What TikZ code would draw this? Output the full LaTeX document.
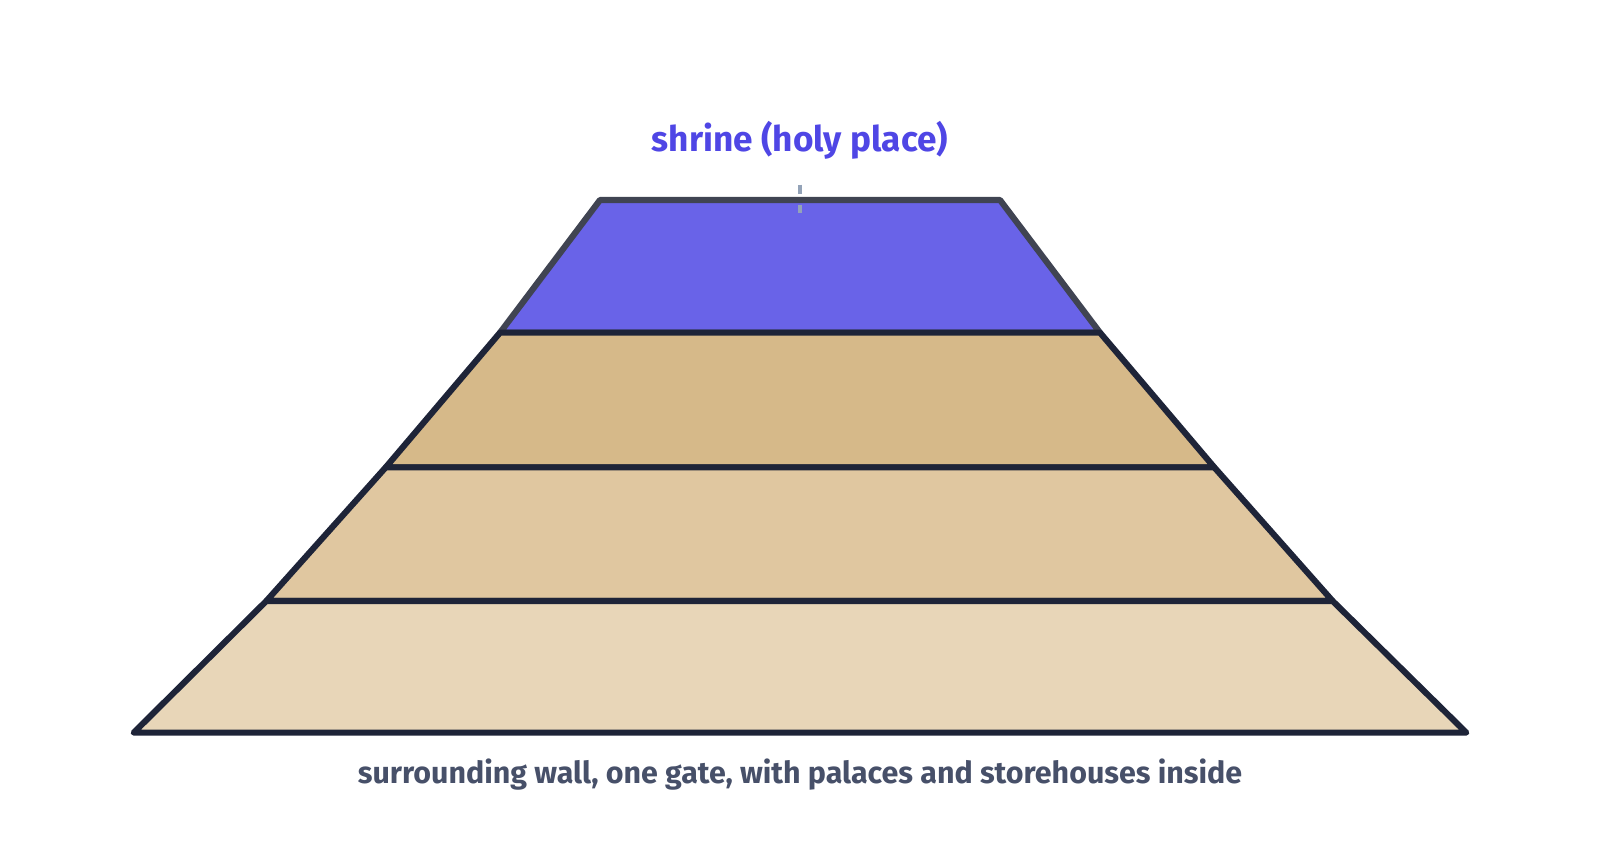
\documentclass[tikz,border=0pt]{standalone}
\usepackage{fontspec}
\setmainfont{Fira Sans}
\definecolor{shrinefill}{HTML}{6963E8}
\definecolor{shrinestroke}{HTML}{404452}
\definecolor{layerstroke}{HTML}{1E2438}
\definecolor{layerA}{HTML}{D6B989}
\definecolor{layerB}{HTML}{E0C7A0}
\definecolor{layerC}{HTML}{E8D6B8}
\definecolor{labelblue}{HTML}{4F46E5}
\definecolor{captiongray}{HTML}{475069}
\definecolor{tickgray}{HTML}{94A3B8}
\begin{document}
\begin{tikzpicture}[x=1pt,y=-1pt,
  layer/.style={draw=layerstroke,line width=6pt,line join=round,line cap=round},
  tickline/.style={draw=tickgray,line width=3pt},
  toplabel/.style={text=labelblue,font=\fontsize{34.5}{40}\selectfont\bfseries},
  caption/.style={text=captiongray,font=\fontsize{29.8}{35}\selectfont\fontseries{sb}\selectfont}]
\useasboundingbox (0,0) rectangle (1568,849.7);
% shrine
\filldraw[layer,draw=shrinestroke,fill=shrinefill] (588,196) -- (980,196) -- (1078,326) -- (490,326) -- cycle;
% layers
\filldraw[layer,fill=layerA] (490,326) -- (1078,326) -- (1190,458) -- (378,458) -- cycle;
\filldraw[layer,fill=layerB] (378,458) -- (1190,458) -- (1306,589) -- (261,589) -- cycle;
\filldraw[layer,fill=layerC] (261,589) -- (1306,589) -- (1437,718) -- (131,718) -- cycle;
% tick
\coordinate (t1) at (784,181);
\coordinate (t2) at (784,190);
\coordinate (t3) at (784,201);
\coordinate (t4) at (784,209);
\draw[tickline] (t1) -- (t2);
\draw[tickline] (t3) -- (t4);
% labels
\node[toplabel] (shrine) at (784,137.5) {shrine (holy place)};
\node[caption] (wall) at (784,759.5) {surrounding wall, one gate, with palaces and storehouses inside};
\end{tikzpicture}
\end{document}
